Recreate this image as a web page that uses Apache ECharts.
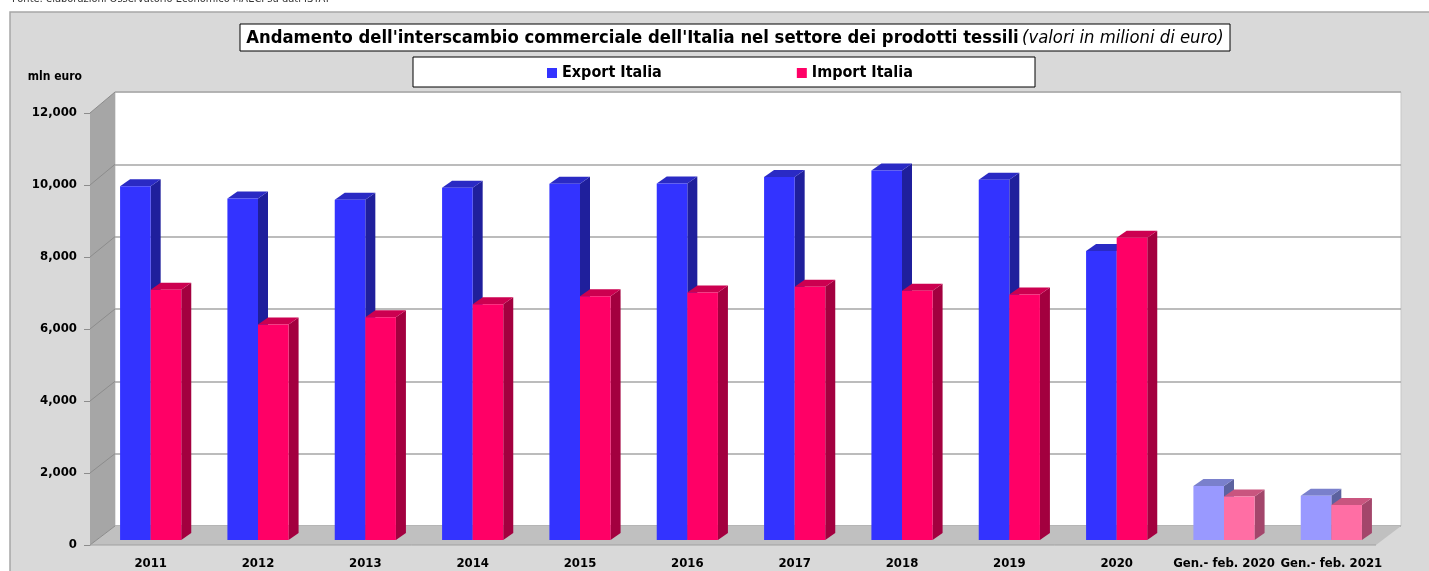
<!DOCTYPE html>
<html lang="it">
  <head>
    <meta charset="UTF-8">
    <title>Interscambio prodotti tessili</title>
    <style>
      html, body { margin: 0; padding: 0; background: #fff; }
      #chart { width: 1429px; height: 571px; }
    </style>
  </head>
  <body>
    <div id="chart"></div>
    <script src="https://cdn.jsdelivr.net/npm/echarts@6/dist/echarts.min.js"></script>
    <script type="text/javascript">
      // dati (milioni di euro)
      var categories = ['2011', '2012', '2013', '2014', '2015', '2016', '2017', '2018', '2019', '2020',
        'Gen.- feb. 2020', 'Gen.- feb. 2021'];
      var exportValues = [9780, 9440, 9410, 9740, 9850, 9860, 10040, 10220, 9960, 7990, 1490, 1225];
      var importValues = [6920, 5960, 6160, 6520, 6740, 6840, 7000, 6890, 6790, 8360, 1200, 970];
      var yTicks = [0, 2000, 4000, 6000, 8000, 10000, 12000];
      var partialPeriods = ['Gen.- feb. 2020', 'Gen.- feb. 2021'];

      var FONT = "'Liberation Sans Narrow', 'DejaVu Sans Condensed', sans-serif";
      var DEPTH = [10, -7];     // profondità delle colonne
      var BAR_RATIO = 0.285;    // larghezza di una colonna rispetto alla categoria

      var palette = {
        full: [
          { front: '#3333ff', side: '#1f1f9c', top: '#2a2ac4' },
          { front: '#ff0066', side: '#a3003f', top: '#cc0050' }
        ],
        partial: [
          { front: '#9999ff', side: '#5c629f', top: '#7a80cc' },
          { front: '#ff6ea4', side: '#a3466b', top: '#c9557f' }
        ]
      };

      function renderBar(params, api) {
        var idx = api.value(0);
        var val = api.value(1);
        var base = api.coord([idx, 0]);
        var top = api.coord([idx, val]);
        var w = api.size([1, 0])[0] * BAR_RATIO;
        var x0 = params.seriesIndex === 0 ? base[0] - w : base[0];
        var x1 = x0 + w;
        var dx = DEPTH[0], dy = DEPTH[1];
        var set = partialPeriods.indexOf(categories[idx]) >= 0 ? palette.partial : palette.full;
        var c = set[params.seriesIndex];
        return {
          type: 'group',
          children: [{
            type: 'polygon',
            shape: { points: [[x1, base[1]], [x1 + dx, base[1] + dy], [x1 + dx, top[1] + dy], [x1, top[1]]] },
            style: { fill: c.side }
          }, {
            type: 'polygon',
            shape: { points: [[x0, top[1]], [x0 + dx, top[1] + dy], [x1 + dx, top[1] + dy], [x1, top[1]]] },
            style: { fill: c.top }
          }, {
            type: 'rect',
            shape: { x: x0, y: top[1], width: w, height: base[1] - top[1] },
            style: { fill: c.front }
          }]
        };
      }

      var myChart = echarts.init(document.getElementById('chart'));

      var option = {
        backgroundColor: '#fff',
        animation: false,
        legend: {
          data: [{ name: 'Export Italia', icon: 'rect' }, { name: 'Import Italia', icon: 'rect' }],
          left: 547,
          top: 65,
          padding: 0,
          itemWidth: 10,
          itemHeight: 10,
          itemGap: 135,
          selectedMode: false,
          textStyle: { fontFamily: FONT, fontWeight: 'bold', fontSize: 16, color: '#000' }
        },
        grid: [
          // parete di fondo
          { left: 115, right: 28, top: 92, bottom: 45, show: true, backgroundColor: '#fff', borderColor: '#c8c8c8', borderWidth: 1 },
          // asse frontale
          { left: 90, right: 53, top: 113, bottom: 26 },
          // colonne
          { left: 97, right: 44, top: 106, bottom: 31 }
        ],
        xAxis: [
          { gridIndex: 0, type: 'value', min: 0, max: 1, show: false },
          { gridIndex: 1, type: 'value', min: 0, max: 1, show: false },
          {
            gridIndex: 2, type: 'category', data: categories,
            axisLine: { show: false }, axisTick: { show: false },
            axisLabel: { margin: 17, fontFamily: FONT, fontWeight: 'bold', fontSize: 13, color: '#000', interval: 0 }
          }
        ],
        yAxis: [
          {
            gridIndex: 0, type: 'value', min: 0, max: 12000, interval: 2000,
            axisLine: { show: false }, axisTick: { show: false }, axisLabel: { show: false },
            splitLine: { lineStyle: { color: '#a6a6a6', width: 1.5 } }
          },
          {
            gridIndex: 1, type: 'value', min: 0, max: 12000, interval: 2000,
            name: 'mln euro',
            nameLocation: 'end',
            nameGap: 30,
            nameTextStyle: { fontFamily: FONT, fontWeight: 'bold', fontSize: 12, color: '#000', align: 'right', padding: [0, 8, 0, 0] },
            axisLine: { show: true, lineStyle: { color: '#8c8c8c' } },
            axisTick: { show: true, length: 6, lineStyle: { color: '#8c8c8c' } },
            axisLabel: {
              margin: 13, fontFamily: FONT, fontWeight: 'bold', fontSize: 13, color: '#000',
              formatter: function (v) { return v.toLocaleString('en-US'); }
            },
            splitLine: { show: false }
          },
          { gridIndex: 2, type: 'value', min: 0, max: 12000, show: false }
        ],
        series: [{
          name: 'Export Italia',
          type: 'custom',
          xAxisIndex: 2,
          yAxisIndex: 2,
          itemStyle: { color: '#3333ff' },
          renderItem: renderBar,
          data: exportValues.map(function (v, i) { return [i, v]; })
        }, {
          name: 'Import Italia',
          type: 'custom',
          xAxisIndex: 2,
          yAxisIndex: 2,
          itemStyle: { color: '#ff0066' },
          renderItem: renderBar,
          data: importValues.map(function (v, i) { return [i, v]; })
        }]
      };

      myChart.setOption(option);

      // pareti e pavimento del grafico 3D
      var front = function (v) { return myChart.convertToPixel({ gridIndex: 1 }, [0, v]); };
      var back = function (v) { return myChart.convertToPixel({ gridIndex: 0 }, [0, v]); };
      var backRight = myChart.convertToPixel({ gridIndex: 0 }, [1, 0]);
      var dxw = back(0)[0] - front(0)[0];

      var elements = [{
        type: 'rect', z: -10,
        shape: { x: 10, y: 12, width: 1440, height: 600 },
        style: { fill: '#d9d9d9', stroke: '#a6a6a6', lineWidth: 1.5 }
      }, {
        type: 'text', z: -10, left: 12, top: -6,
        style: { text: 'Fonte: elaborazioni Osservatorio Economico MAECI su dati ISTAT', fontFamily: FONT, fontSize: 11, fill: '#333' }
      }, {
        type: 'rect', z: -5,
        shape: { x: 240, y: 24, width: 990, height: 27 },
        style: { fill: '#fff', stroke: '#000', lineWidth: 1 }
      }, {
        type: 'text', z: 10,
        x: 735, y: 38,
        style: {
          text: '{b|Andamento dell\'interscambio commerciale dell\'Italia nel settore dei prodotti tessili} {i|(valori in milioni di euro)}',
          align: 'center', verticalAlign: 'middle',
          rich: {
            b: { fontFamily: FONT, fontWeight: 'bold', fontSize: 18.3, fill: '#000' },
            i: { fontFamily: FONT, fontStyle: 'italic', fontSize: 18.3, fill: '#000' }
          }
        }
      }, {
        type: 'rect', z: -5,
        shape: { x: 413, y: 57, width: 622, height: 30 },
        style: { fill: '#fff', stroke: '#000', lineWidth: 1 }
      }, {
        type: 'polygon', z: 1,
        shape: { points: [front(0), front(12000), back(12000), back(0)] },
        style: { fill: '#a6a6a6' }
      }, {
        type: 'polygon', z: 1,
        shape: { points: [front(0), [backRight[0] - dxw, front(0)[1]], backRight, back(0)] },
        style: { fill: '#c0c0c0' }
      }];
      yTicks.forEach(function (v) {
        elements.push({
          type: 'line', z: 1,
          shape: { x1: front(v)[0], y1: front(v)[1], x2: back(v)[0], y2: back(v)[1] },
          style: { stroke: '#8c8c8c', lineWidth: 1 }
        });
      });
      elements.push({
        type: 'line', z: 1,
        shape: { x1: front(0)[0], y1: front(0)[1], x2: backRight[0] - dxw, y2: front(0)[1] },
        style: { stroke: '#a0a0a0', lineWidth: 1 }
      });

      myChart.setOption({ graphic: { elements: elements } });
    </script>
  </body>
</html>
